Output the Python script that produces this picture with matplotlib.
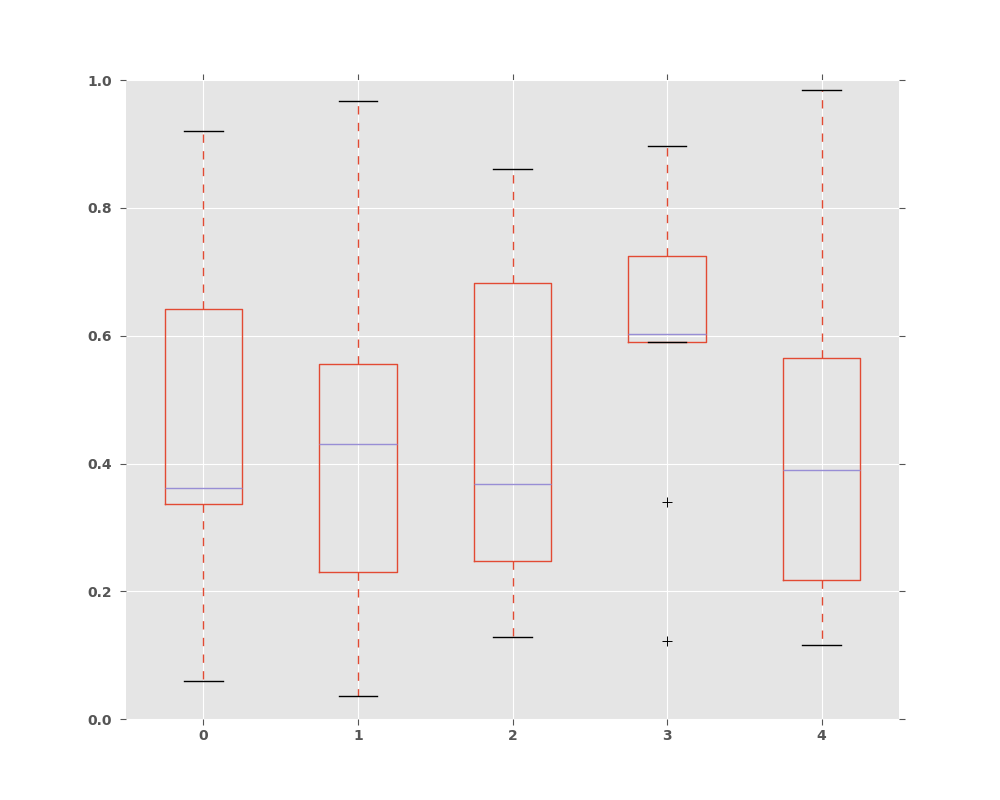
import matplotlib
matplotlib.use("Agg")
import matplotlib.pyplot as plt

# per-column summary statistics
labels = ["0", "1", "2", "3", "4"]
q1 = [0.336, 0.230, 0.247, 0.590, 0.2175]
med = [0.3615, 0.430, 0.368, 0.602, 0.390]
q3 = [0.642, 0.556, 0.682, 0.725, 0.565]
whislo = [0.0595, 0.036, 0.128, 0.590, 0.116]
whishi = [0.920, 0.967, 0.861, 0.897, 0.984]
fliers = [[], [], [], [0.340, 0.122], []]

stats = []
for i in range(len(labels)):
    stats.append(dict(label=labels[i], q1=q1[i], med=med[i], q3=q3[i],
                      whislo=whislo[i], whishi=whishi[i], fliers=fliers[i]))

fig = plt.figure(figsize=(10, 8), dpi=100)
ax = fig.add_axes([0.126, 0.101, 0.773, 0.799])
ax.set_facecolor("#E5E5E5")
for s in ax.spines.values():
    s.set_visible(False)

ax.bxp(stats, positions=range(len(labels)), widths=0.5,
       boxprops=dict(color="#E24A33", linewidth=1),
       whiskerprops=dict(color="#E24A33", linestyle=(0, (6, 6)), linewidth=1),
       capprops=dict(color="black", linewidth=1),
       medianprops=dict(color="#988ED5", linewidth=1),
       flierprops=dict(marker="+", markeredgecolor="black", markersize=7,
                       markeredgewidth=0.7, linestyle="none"))

ax.set_xlim(-0.5, 4.5)
ax.set_ylim(0, 1.0)
ax.set_xticks(range(len(labels)))
ax.set_xticklabels(labels)
ax.set_yticks([0.0, 0.2, 0.4, 0.6, 0.8, 1.0])
ax.grid(True, color="white", linewidth=0.8, linestyle="-")
ax.set_axisbelow(True)
ax.tick_params(direction="out", length=4, width=0.8, color="#555555",
               labelcolor="#555555", labelsize=10, top=True, right=True, pad=6)
ax.tick_params(axis="x", pad=3)
for t in ax.get_xticklabels() + ax.get_yticklabels():
    t.set_fontweight("bold")

fig.savefig("out.png", dpi=100)
